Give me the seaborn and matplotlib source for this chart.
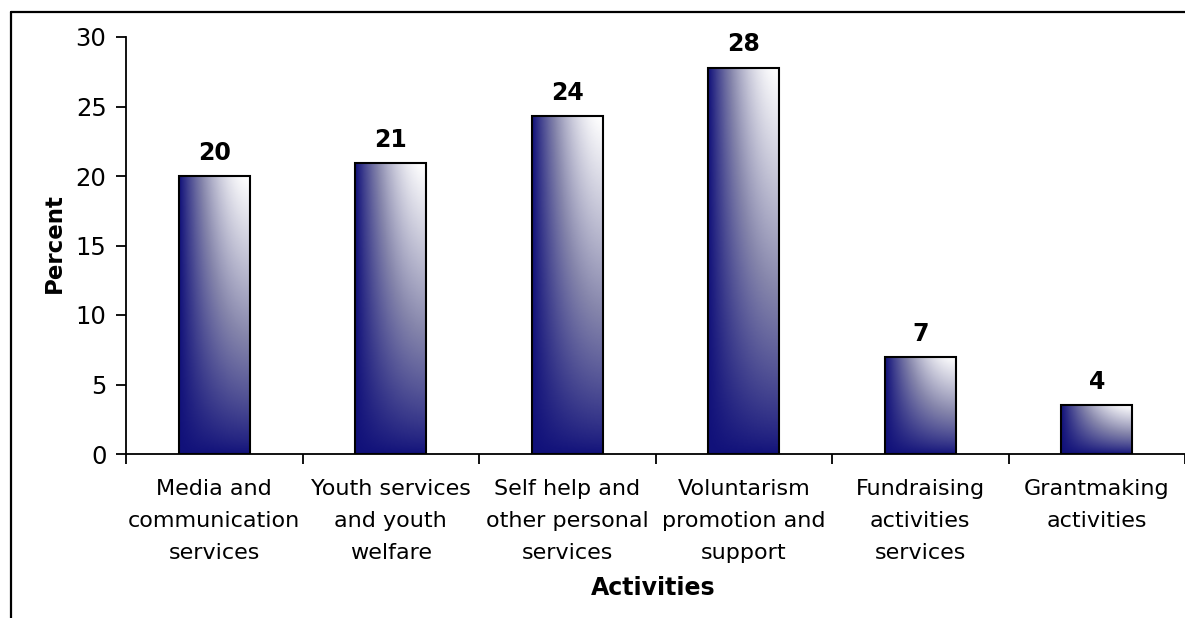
import numpy as np
import pandas as pd
import matplotlib
matplotlib.use("Agg")
import matplotlib.pyplot as plt
from matplotlib.lines import Line2D
from matplotlib.ticker import FixedLocator
from matplotlib.colors import LinearSegmentedColormap
import seaborn as sns

# Share of organisations by main activity
activities = [
    "Media and\ncommunication\nservices",
    "Youth services\nand youth\nwelfare",
    "Self help and\nother personal\nservices",
    "Voluntarism\npromotion and\nsupport",
    "Fundraising\nactivities\nservices",
    "Grantmaking\nactivities",
]
percent = [20.0, 20.9, 24.3, 27.8, 7.0, 3.5]

y_ticks = [0, 5, 10, 15, 20, 25, 30]

sns.set_theme(style="white")
plt.rcParams["font.family"] = ["DejaVu Sans"]
plt.rcParams["text.color"] = "black"
plt.rcParams["axes.labelcolor"] = "black"

W, H = 1185, 618
fig = plt.figure(figsize=(W / 100, H / 100), dpi=100)
ax = fig.add_axes([126 / W, 1 - 454 / H, (W - 126) / W, (454 - 37) / H])

df = pd.DataFrame({"activity": activities, "percent": percent})
sns.barplot(data=df, x="activity", y="percent", width=0.4, color="white",
            edgecolor="black", linewidth=1.5, ax=ax, zorder=3)

# Navy-to-white corner gradient painted inside every bar
fill_cmap = LinearSegmentedColormap.from_list(
    "navy_fade", ["#11117a", "#8585ab", "#ffffff"])
gx = np.linspace(0, 1, 80)
gy = np.linspace(1, 0, 300)
X, Y = np.meshgrid(gx, gy)
t = (1 - (1 - X) ** 1.8) * Y ** 0.8

for patch in ax.patches:
    x0, y0 = patch.get_x(), patch.get_y()
    w, h = patch.get_width(), patch.get_height()
    patch.set_facecolor("none")
    ax.imshow(t, cmap=fill_cmap, vmin=0, vmax=1,
              extent=[x0, x0 + w, y0, y0 + h], aspect="auto",
              interpolation="bilinear", zorder=2)

ax.set_xlim(-0.5, len(activities) - 0.5)
ax.set_ylim(0, 30)
ax.set_yticks(y_ticks)
ax.set_yticklabels([str(v) for v in y_ticks])

# Value labels above bars
for i, v in enumerate(percent):
    ax.annotate(f"{v:.0f}", (i, v), xytext=(0, 8), textcoords="offset points",
                ha="center", va="bottom", fontsize=17, fontweight="bold",
                color="black")

for side in ["top", "right"]:
    ax.spines[side].set_visible(False)
for side in ["left", "bottom"]:
    ax.spines[side].set_color("black")
    ax.spines[side].set_linewidth(1.3)

ax.xaxis.set_minor_locator(FixedLocator(np.arange(-0.5, len(activities), 1.0)))
ax.tick_params(axis="x", which="major", length=0, pad=18, labelsize=16,
               colors="black")
ax.tick_params(axis="x", which="minor", length=7, width=1.3, direction="out",
               color="black", bottom=True)
ax.tick_params(axis="y", length=7, width=1.3, direction="out", pad=7,
               labelsize=17.5, colors="black", left=True)
for lab in ax.get_xticklabels():
    lab.set_linespacing(1.76)

ax.set_xlabel("")
ax.set_ylabel("")
fig.text(653 / W, 1 - 588 / H, "Activities", ha="center", va="center",
         fontsize=17, fontweight="bold", color="black")
fig.text(54 / W, 1 - 243 / H, "Percent", ha="center", va="center",
         rotation=90, fontsize=16.5, fontweight="bold", color="black")

# Outer frame (left and top edges)
fig.add_artist(Line2D([10.5 / W, 10.5 / W], [0, 1 - 12 / H],
                      transform=fig.transFigure, color="black", linewidth=1.6))
fig.add_artist(Line2D([10.5 / W, 1], [1 - 12 / H, 1 - 12 / H],
                      transform=fig.transFigure, color="black", linewidth=1.6))

fig.savefig("out.png", dpi=100, facecolor="white")
